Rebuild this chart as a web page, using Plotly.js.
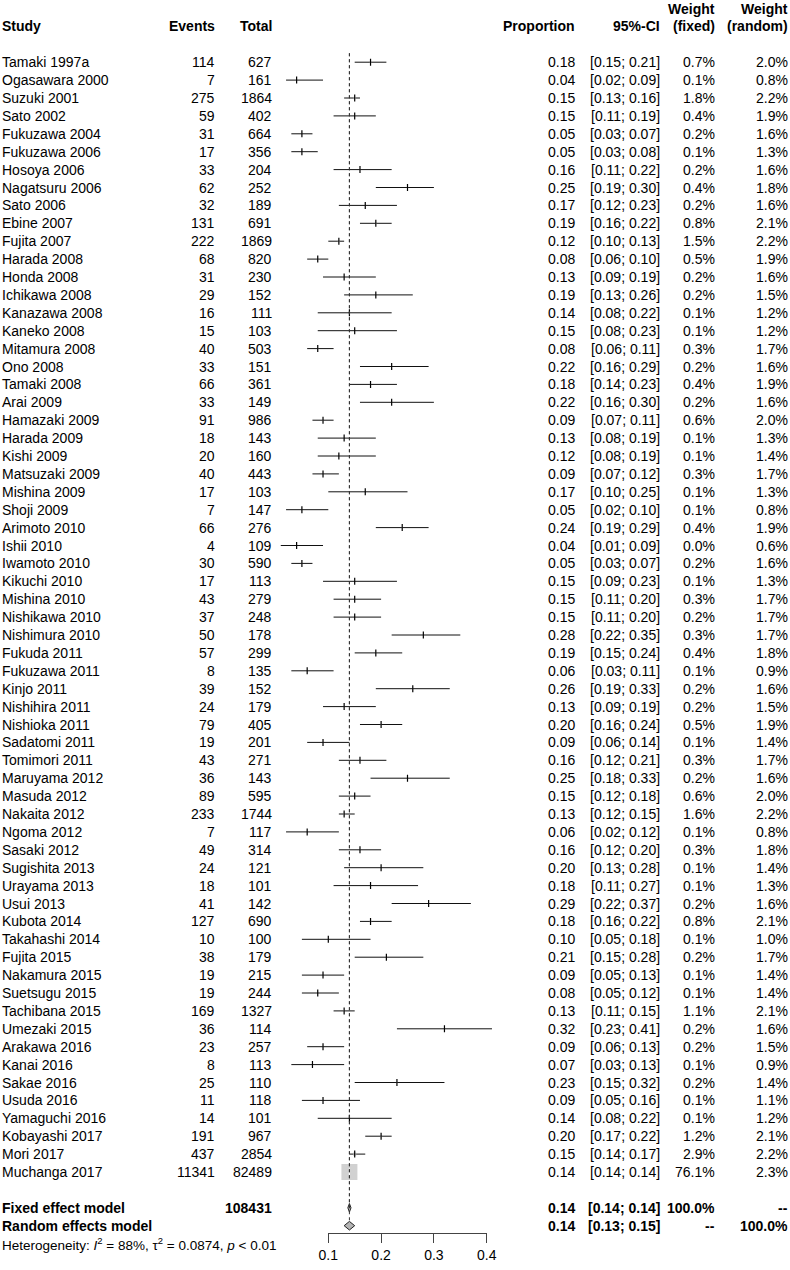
<!DOCTYPE html>
<html>
<head>
<meta charset="utf-8">
<script src="https://cdn.plot.ly/plotly-3.0.1.min.js"></script>
<style>html,body{margin:0;padding:0;background:#fff;}#chart{width:790px;height:1270px;}</style>
</head>
<body>
<div id="chart"></div>
<script>
const studies = ["Tamaki 1997a","Ogasawara 2000","Suzuki 2001","Sato 2002","Fukuzawa 2004","Fukuzawa 2006","Hosoya 2006","Nagatsuru 2006","Sato 2006","Ebine 2007","Fujita 2007","Harada 2008","Honda 2008","Ichikawa 2008","Kanazawa 2008","Kaneko 2008","Mitamura 2008","Ono 2008","Tamaki 2008","Arai 2009","Hamazaki 2009","Harada 2009","Kishi 2009","Matsuzaki 2009","Mishina 2009","Shoji 2009","Arimoto 2010","Ishii 2010","Iwamoto 2010","Kikuchi 2010","Mishina 2010","Nishikawa 2010","Nishimura 2010","Fukuda 2011","Fukuzawa 2011","Kinjo 2011","Nishihira 2011","Nishioka 2011","Sadatomi 2011","Tomimori 2011","Maruyama 2012","Masuda 2012","Nakaita 2012","Ngoma 2012","Sasaki 2012","Sugishita 2013","Urayama 2013","Usui 2013","Kubota 2014","Takahashi 2014","Fujita 2015","Nakamura 2015","Suetsugu 2015","Tachibana 2015","Umezaki 2015","Arakawa 2016","Kanai 2016","Sakae 2016","Usuda 2016","Yamaguchi 2016","Kobayashi 2017","Mori 2017","Muchanga 2017"];
const events = [114,7,275,59,31,17,33,62,32,131,222,68,31,29,16,15,40,33,66,33,91,18,20,40,17,7,66,4,30,17,43,37,50,57,8,39,24,79,19,43,36,89,233,7,49,24,18,41,127,10,38,19,19,169,36,23,8,25,11,14,191,437,11341];
const totals = [627,161,1864,402,664,356,204,252,189,691,1869,820,230,152,111,103,503,151,361,149,986,143,160,443,103,147,276,109,590,113,279,248,178,299,135,152,179,405,201,271,143,595,1744,117,314,121,101,142,690,100,179,215,244,1327,114,257,113,110,118,101,967,2854,82489];
const props = [0.18,0.04,0.15,0.15,0.05,0.05,0.16,0.25,0.17,0.19,0.12,0.08,0.13,0.19,0.14,0.15,0.08,0.22,0.18,0.22,0.09,0.13,0.12,0.09,0.17,0.05,0.24,0.04,0.05,0.15,0.15,0.15,0.28,0.19,0.06,0.26,0.13,0.20,0.09,0.16,0.25,0.15,0.13,0.06,0.16,0.20,0.18,0.29,0.18,0.10,0.21,0.09,0.08,0.13,0.32,0.09,0.07,0.23,0.09,0.14,0.20,0.15,0.14];
const lower = [0.15,0.02,0.13,0.11,0.03,0.03,0.11,0.19,0.12,0.16,0.10,0.06,0.09,0.13,0.08,0.08,0.06,0.16,0.14,0.16,0.07,0.08,0.08,0.07,0.10,0.02,0.19,0.01,0.03,0.09,0.11,0.11,0.22,0.15,0.03,0.19,0.09,0.16,0.06,0.12,0.18,0.12,0.12,0.02,0.12,0.13,0.11,0.22,0.16,0.05,0.15,0.05,0.05,0.11,0.23,0.06,0.03,0.15,0.05,0.08,0.17,0.14,0.14];
const upper = [0.21,0.09,0.16,0.19,0.07,0.08,0.22,0.30,0.23,0.22,0.13,0.10,0.19,0.26,0.22,0.23,0.11,0.29,0.23,0.30,0.11,0.19,0.19,0.12,0.25,0.10,0.29,0.09,0.07,0.23,0.20,0.20,0.35,0.24,0.11,0.33,0.19,0.24,0.14,0.21,0.33,0.18,0.15,0.12,0.20,0.28,0.27,0.37,0.22,0.18,0.28,0.13,0.12,0.15,0.41,0.13,0.13,0.32,0.16,0.22,0.22,0.17,0.14];
const wFixed = [0.7,0.1,1.8,0.4,0.2,0.1,0.2,0.4,0.2,0.8,1.5,0.5,0.2,0.2,0.1,0.1,0.3,0.2,0.4,0.2,0.6,0.1,0.1,0.3,0.1,0.1,0.4,0.0,0.2,0.1,0.3,0.2,0.3,0.4,0.1,0.2,0.2,0.5,0.1,0.3,0.2,0.6,1.6,0.1,0.3,0.1,0.1,0.2,0.8,0.1,0.2,0.1,0.1,1.1,0.2,0.2,0.1,0.2,0.1,0.1,1.2,2.9,76.1];
const wRandom = [2.0,0.8,2.2,1.9,1.6,1.3,1.6,1.8,1.6,2.1,2.2,1.9,1.6,1.5,1.2,1.2,1.7,1.6,1.9,1.6,2.0,1.3,1.4,1.7,1.3,0.8,1.9,0.6,1.6,1.3,1.7,1.7,1.7,1.8,0.9,1.6,1.5,1.9,1.4,1.7,1.6,2.0,2.2,0.8,1.8,1.4,1.3,1.6,2.1,1.0,1.7,1.4,1.4,2.1,1.6,1.5,0.9,1.4,1.1,1.2,2.1,2.2,2.3];

const summaryLabels = ["Fixed effect model","Random effects model"];
const summaryTotal = "108431";
const summaryEst = [0.14, 0.14];
const summaryLo = [0.137, 0.13];
const summaryHi = [0.143, 0.15];
const summaryCI = ["[0.14; 0.14]","[0.13; 0.15]"];
const summaryWFixed = ["100.0%","--"];
const summaryWRandom = ["--","100.0%"];
const heterogeneity = "Heterogeneity: <i>I</i><sup>2</sup> = 88%, τ<sup>2</sup> = 0.0874, <i>p</i> &lt; 0.01";
const tickVals = [0.1,0.2,0.3,0.4];
const tickText = ["0.1","0.2","0.3","0.4"];
const headers = {study:"Study", events:"Events", total:"Total", prop:"Proportion", ci:"95%-CI", wf:["Weight","(fixed)"], wr:["Weight","(random)"]};

// layout constants
const W = 790, H = 1270;
const FONT = "Liberation Sans, Arial, Helvetica, sans-serif";
const colX = {study:2, events:215, total:272, prop:575, ci:660, wf:715, wr:788};
const rowIdx = studies.map((_, i) => i);
const fixedRow = studies.length + 1, randomRow = studies.length + 2, hetRow = studies.length + 3;
const y0px = 62.2, rowPx = 17.9;

function ann(text, xpx, y, anchor, bold, size) {
  return {text: bold ? "<b>" + text + "</b>" : text, xref:"paper", yref:"y", x: xpx / W, y: y,
    xanchor: anchor, yanchor:"middle", showarrow:false, borderpad:0, borderwidth:0,
    font:{family:FONT, size: size || 14, color:"#000"}};
}

const annotations = [];
annotations.push(ann(headers.study, colX.study, -2, "left", true));
annotations.push(ann(headers.events, colX.events, -2, "right", true));
annotations.push(ann(headers.total, colX.total, -2, "right", true));
annotations.push(ann(headers.prop, colX.prop, -2, "right", true));
annotations.push(ann(headers.ci, colX.ci, -2, "right", true));
annotations.push(ann(headers.wf[0], colX.wf, -3, "right", true));
annotations.push(ann(headers.wf[1], colX.wf, -2, "right", true));
annotations.push(ann(headers.wr[0], colX.wr, -3, "right", true));
annotations.push(ann(headers.wr[1], colX.wr, -2, "right", true));
rowIdx.forEach(i => {
  annotations.push(ann(studies[i], colX.study, i, "left"));
  annotations.push(ann(String(events[i]), colX.events, i, "right"));
  annotations.push(ann(String(totals[i]), colX.total, i, "right"));
  annotations.push(ann(props[i].toFixed(2), colX.prop, i, "right"));
  annotations.push(ann("[" + lower[i].toFixed(2) + "; " + upper[i].toFixed(2) + "]", colX.ci, i, "right"));
  annotations.push(ann(wFixed[i].toFixed(1) + "%", colX.wf, i, "right"));
  annotations.push(ann(wRandom[i].toFixed(1) + "%", colX.wr, i, "right"));
});
[fixedRow, randomRow].forEach((r, k) => {
  annotations.push(ann(summaryLabels[k], colX.study, r, "left", true));
  if (k === 0) annotations.push(ann(summaryTotal, colX.total, r, "right", true));
  annotations.push(ann(summaryEst[k].toFixed(2), colX.prop, r, "right", true));
  annotations.push(ann(summaryCI[k], colX.ci, r, "right", true));
  annotations.push(ann(summaryWFixed[k], colX.wf, r, "right", true));
  annotations.push(ann(summaryWRandom[k], colX.wr, r, "right", true));
});
annotations.push(ann(heterogeneity, colX.study, hetRow, "left", false, 13.5));

const maxW = Math.max(...wFixed);
const traces = [
  {type:"scatter", mode:"lines", xaxis:"x2", yaxis:"y", x:[summaryEst[0], summaryEst[0]], y:[-0.5, fixedRow],
   line:{color:"#333", width:1, dash:"dot"}, hoverinfo:"skip", showlegend:false},
  {type:"scatter", mode:"lines", xaxis:"x2", yaxis:"y", x:[summaryEst[1], summaryEst[1]], y:[-0.5, randomRow - 0.25],
   line:{color:"#333", width:1, dash:"3px,3px"}, hoverinfo:"skip", showlegend:false},
  {type:"scatter", mode:"markers", x:props, y:rowIdx, marker:{size:1, opacity:0},
   error_x:{type:"data", symmetric:false, array: upper.map((u, i) => u - props[i]),
            arrayminus: lower.map((l, i) => props[i] - l), width:0, thickness:1, color:"#111"},
   hoverinfo:"skip", showlegend:false},
  {type:"scatter", mode:"markers", x:props, y:rowIdx,
   marker:{symbol:"square", size: wFixed.map(w => 16 * Math.sqrt(w / maxW)), color:"#bebebe", line:{width:0}},
   hoverinfo:"skip", showlegend:false},
  {type:"scatter", mode:"markers", x:props, y:rowIdx,
   marker:{symbol:"line-ns", size:5, color: wFixed.map(w => w > 10 ? "#fff" : "#000"),
           line:{width:1.2, color: wFixed.map(w => w > 10 ? "#fff" : "#000")}},
   hoverinfo:"skip", showlegend:false}
];
const dh = 0.24;
[fixedRow, randomRow].forEach((r, k) => {
  traces.push({type:"scatter", mode:"lines", fill:"toself", fillcolor:"#b4b4b4",
    x:[summaryLo[k], summaryEst[k], summaryHi[k], summaryEst[k], summaryLo[k]],
    y:[r, r - dh, r, r + dh, r], line:{color:"#222", width:1}, hoverinfo:"skip", showlegend:false});
});

const layout = {
  width: W, height: H, margin:{l:0, r:0, t:0, b:0}, paper_bgcolor:"#fff", plot_bgcolor:"rgba(0,0,0,0)",
  showlegend:false, font:{family:FONT, size:14, color:"#000"},
  xaxis:{domain:[275.5 / W, 539.5 / W], range:[0, 0.5], visible:false, fixedrange:true},
  xaxis2:{domain:[328.3 / W, 486.7 / W], range:[0.1, 0.4], anchor:"free", position: 1 - 1233 / H, side:"bottom",
          showline:true, linecolor:"#444", linewidth:1, ticks:"outside", ticklen:9, tickwidth:1, tickcolor:"#444",
          tickvals: tickVals, ticktext: tickText, tickfont:{family:FONT, size:14, color:"#000"},
          showgrid:false, zeroline:false, fixedrange:true},
  yaxis:{domain:[0, 1], range:[(H - y0px) / rowPx, -y0px / rowPx], visible:false, fixedrange:true},
  annotations: annotations
};

Plotly.newPlot("chart", traces, layout, {staticPlot:true, displayModeBar:false});
</script>
</body>
</html>
